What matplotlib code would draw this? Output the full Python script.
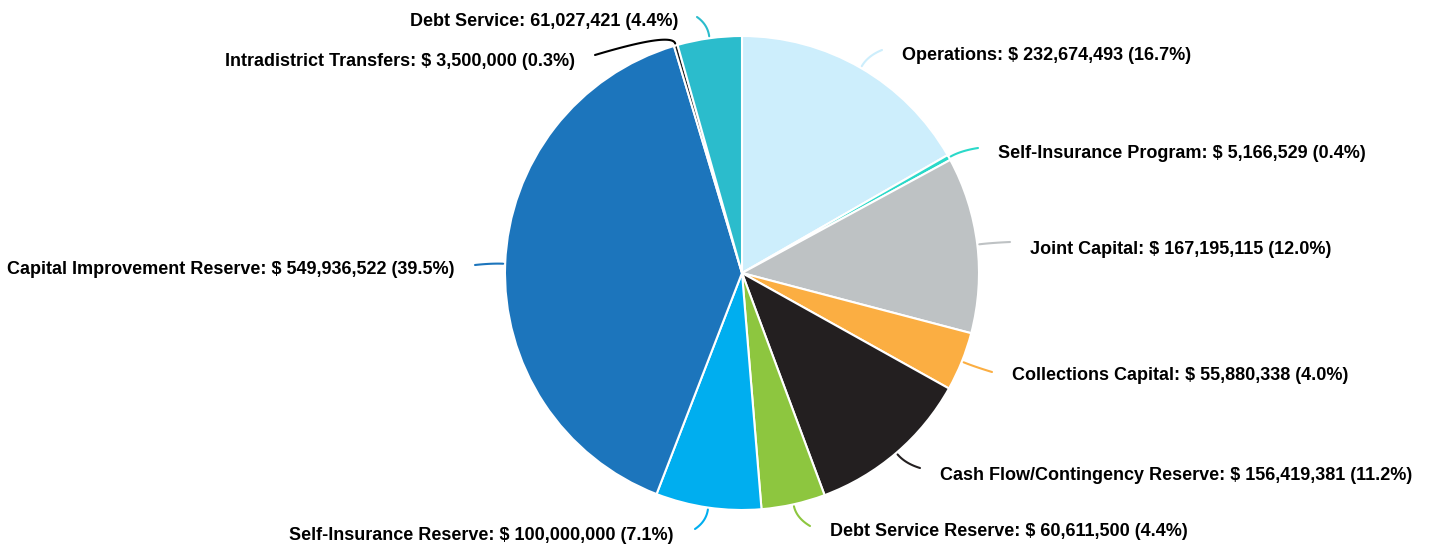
import numpy as np
import matplotlib.pyplot as plt

# Budget allocation data
categories = ["Operations", "Self-Insurance Program", "Joint Capital", "Collections Capital",
              "Cash Flow/Contingency Reserve", "Debt Service Reserve", "Self-Insurance Reserve",
              "Capital Improvement Reserve", "Intradistrict Transfers", "Debt Service"]
amounts = [232674493, 5166529, 167195115, 55880338, 156419381, 60611500, 100000000,
           549936522, 3500000, 61027421]
amount_labels = ["$ 232,674,493", "$ 5,166,529", "$ 167,195,115", "$ 55,880,338",
                 "$ 156,419,381", "$ 60,611,500", "$ 100,000,000", "$ 549,936,522",
                 "$ 3,500,000", "61,027,421"]
pct_labels = ["16.7%", "0.4%", "12.0%", "4.0%", "11.2%", "4.4%", "7.1%", "39.5%", "0.3%", "4.4%"]
colors = ["#cdeefc", "#2ad9c9", "#bec2c4", "#fbae42", "#231f20", "#8dc63f",
          "#00aeef", "#1c75bc", "#1a1a1a", "#2bbccc"]

# label layout in pixel coords (x, y from top, ha) and leader end points
label_pos = [(902, 55, "left"), (998, 154, "left"), (1030, 249, "left"), (1012, 376, "left"),
             (940, 475, "left"), (830, 531, "left"), (674, 535, "right"), (455, 270, "right"),
             (575, 62, "right"), (678, 21, "right")]
leader_end = [(882, 50), (978, 148), (1010, 242), (992, 372), (920, 468), (810, 526),
              (695, 529), (475, 265), (595, 55), (697, 17)]

W, H = 1429, 544
cx, cy, r = 742, H - 273, 237

fig = plt.figure(figsize=(W / 100, H / 100), dpi=100)
ax = fig.add_axes([0, 0, 1, 1])

wedges, _ = ax.pie(amounts, colors=colors, startangle=90, counterclock=False,
                   center=(cx, cy), radius=r, frame=True,
                   wedgeprops=dict(edgecolor="white", linewidth=1.5))
ax.set_xlim(0, W)
ax.set_ylim(0, H)
ax.set_aspect("equal")
ax.axis("off")

for i, w in enumerate(wedges):
    mid = np.deg2rad((w.theta1 + w.theta2) / 2)
    d = np.array([np.cos(mid), np.sin(mid)])
    p0 = np.array([cx, cy]) + (r + 2) * d
    p1 = np.array([cx, cy]) + (r + 14) * d
    p2 = np.array([leader_end[i][0], H - leader_end[i][1]])
    t = np.linspace(0, 1, 30)[:, None]
    pts = (1 - t) ** 2 * p0 + 2 * (1 - t) * t * p1 + t ** 2 * p2
    lc = "black" if i == 8 else colors[i]
    ax.plot(pts[:, 0], pts[:, 1], color=lc, lw=1.5, solid_capstyle="round")

    txt = f"{categories[i]}: {amount_labels[i]} ({pct_labels[i]})"
    x, y, ha = label_pos[i]
    ax.text(x, H - y, txt, ha=ha, va="center", fontsize=12.95, fontweight="bold",
            family="Liberation Sans", color="black")

fig.savefig("out.png", dpi=100)
